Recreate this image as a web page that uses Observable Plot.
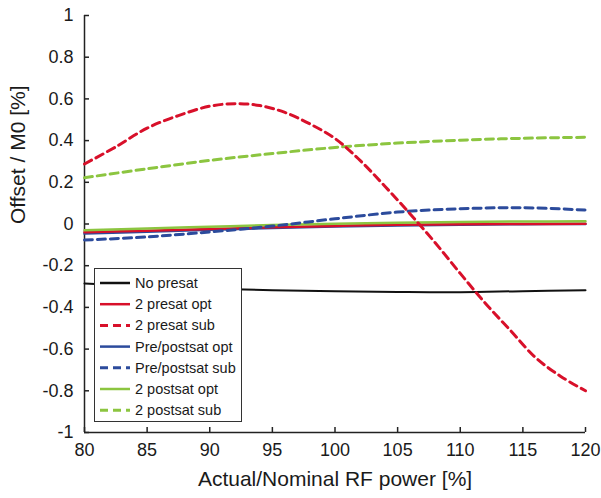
<!DOCTYPE html>
<html>
<head>
<meta charset="utf-8">
<script src="https://cdn.jsdelivr.net/npm/d3@7"></script>
<script src="https://cdn.jsdelivr.net/npm/@observablehq/plot@0.6"></script>
<style>
  html, body { margin: 0; padding: 0; background: #fff; }
  #wrap { position: relative; width: 601px; height: 498px; }
  #legend { position: absolute; left: 94px; top: 268px; }
</style>
</head>
<body>
<div id="wrap"></div>
<script>
// RF power axis (percent of nominal) and offsets (percent of M0)
const power = [80, 85, 90, 95, 100, 105, 110, 115, 120];
const noPresat   = [-0.285, -0.300, -0.310, -0.318, -0.323, -0.326, -0.327, -0.322, -0.318];
const presatOpt  = [-0.040, -0.032, -0.024, -0.016, -0.009, -0.004, -0.001, 0.000, 0.001];
const prePostOpt = [-0.046, -0.037, -0.028, -0.019, -0.012, -0.007, -0.003, -0.001, 0.000];
const prePostSub = [-0.077, -0.062, -0.038, -0.010, 0.025, 0.057, 0.073, 0.078, 0.067];
const postsatOpt = [-0.030, -0.021, -0.013, -0.005, 0.001, 0.006, 0.010, 0.012, 0.013];
const postsatSub = [0.222, 0.265, 0.305, 0.338, 0.367, 0.388, 0.402, 0.411, 0.416];

// The "2 presat sub" curve bends strongly, so it is sampled more finely
const presatSubPower = [80, 82.5, 85, 87.5, 90, 92, 94, 96, 98, 100, 102, 104, 106, 108, 110, 112, 114, 116, 118, 120];
const presatSub = [0.288, 0.37, 0.46, 0.52, 0.565, 0.577, 0.568, 0.535, 0.48, 0.41, 0.305, 0.18, 0.048, -0.09, -0.237, -0.38, -0.51, -0.64, -0.73, -0.80];

const xTicks = [80, 85, 90, 95, 100, 105, 110, 115, 120];
const yTicks = [-1, -0.8, -0.6, -0.4, -0.2, 0, 0.2, 0.4, 0.6, 0.8, 1];

const RED = "#d8102a", BLUE = "#2c4b9c", GREEN = "#8cc540", BLACK = "#111";

const toRows = (xs, ys) => xs.map((x, i) => ({power: x, offset: ys[i]}));

// Series in legend order, with their drawing styles
const series = [
  {name: "No presat",         rows: toRows(power, noPresat),            stroke: BLACK, width: 2,   dash: null},
  {name: "2 presat opt",      rows: toRows(power, presatOpt),           stroke: RED,   width: 2.5, dash: null},
  {name: "2 presat sub",      rows: toRows(presatSubPower, presatSub),  stroke: RED,   width: 3,   dash: "8,5"},
  {name: "Pre/postsat opt",   rows: toRows(power, prePostOpt),          stroke: BLUE,  width: 2.5, dash: null},
  {name: "Pre/postsat sub",   rows: toRows(power, prePostSub),          stroke: BLUE,  width: 3,   dash: "8,5"},
  {name: "2 postsat opt",     rows: toRows(power, postsatOpt),          stroke: GREEN, width: 2.5, dash: null},
  {name: "2 postsat sub",     rows: toRows(power, postsatSub),          stroke: GREEN, width: 3,   dash: "8,5"}
];

// Draw the blue solid line under the red one
const drawOrder = [0, 3, 1, 5, 4, 6, 2];

const fmt = d => String(+d.toFixed(1));

const chart = Plot.plot({
  width: 601,
  height: 498,
  marginLeft: 84,
  marginRight: 16,
  marginTop: 15,
  marginBottom: 66,
  style: {fontFamily: "'Liberation Sans', Arial, sans-serif", fontSize: "18px", color: "#1a1a1a", background: "#fff"},
  x: {domain: [80, 120]},
  y: {domain: [-1, 1]},
  marks: [
    // inward tick marks
    Plot.axisX({ticks: xTicks, tickSize: 5, dy: -5, text: null, label: null, stroke: "#222", strokeWidth: 1.5}),
    Plot.axisY({ticks: yTicks, tickSize: 5, dx: 5, text: null, label: null, stroke: "#222", strokeWidth: 1.5}),
    // tick labels
    Plot.axisX({ticks: xTicks, tickSize: 0, tickPadding: 11, tickFormat: fmt, label: null, fontSize: 18}),
    Plot.axisY({ticks: yTicks, tickSize: 0, tickPadding: 11, tickFormat: fmt, label: null, fontSize: 18}),
    // axis lines
    Plot.ruleX([80], {stroke: "#222", strokeWidth: 1.5}),
    Plot.ruleY([-1], {stroke: "#222", strokeWidth: 1.5}),
    ...drawOrder.map(i => {
      const s = series[i];
      return Plot.line(s.rows, {
        x: "power", y: "offset", curve: "catmull-rom",
        stroke: s.stroke, strokeWidth: s.width,
        strokeDasharray: s.dash
      });
    }),
    // axis titles
    Plot.text(["Actual/Nominal RF power [%]"], {frameAnchor: "bottom", dy: 53, fontSize: 21, fill: "#1a1a1a"}),
    Plot.text(["Offset / M0 [%]"], {frameAnchor: "left", dx: -66, rotate: -90, fontSize: 21, fill: "#1a1a1a"})
  ]
});

const wrap = document.getElementById("wrap");
wrap.appendChild(chart);

// Legend box drawn over the lower-left of the plot
const lw = 148, lh = 154;
const legend = d3.create("svg")
  .attr("id", "legend")
  .attr("width", lw)
  .attr("height", lh)
  .style("font-family", "'Liberation Sans', Arial, sans-serif")
  .style("font-size", "14.5px");
legend.append("rect")
  .attr("x", 0.5).attr("y", 0.5)
  .attr("width", lw - 1).attr("height", lh - 1)
  .attr("fill", "#fff").attr("stroke", "#333").attr("stroke-width", 1);
series.forEach((s, i) => {
  const y = 15 + i * 21.2;
  legend.append("line")
    .attr("x1", 6).attr("x2", 36).attr("y1", y).attr("y2", y)
    .attr("stroke", s.stroke)
    .attr("stroke-width", s.dash ? 3 : 2.5)
    .attr("stroke-dasharray", s.dash);
  legend.append("text")
    .attr("x", 41).attr("y", y)
    .attr("dy", "0.35em")
    .attr("fill", "#1a1a1a")
    .text(s.name);
});
wrap.appendChild(legend.node());
</script>
</body>
</html>
